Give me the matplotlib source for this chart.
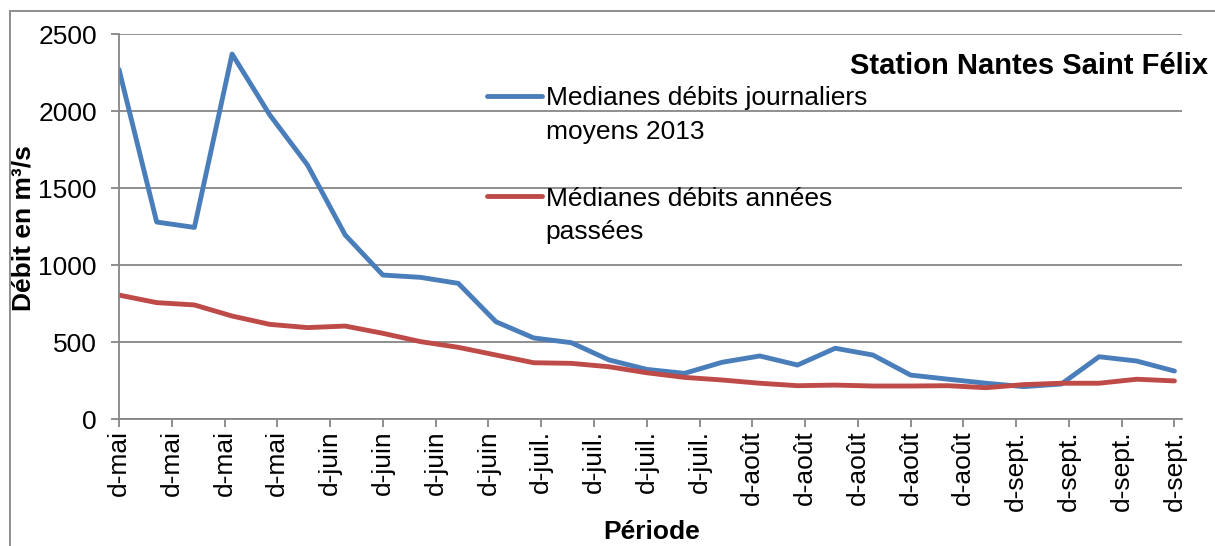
import numpy as np
import matplotlib
matplotlib.use("Agg")
import matplotlib.pyplot as plt
from matplotlib.lines import Line2D
from matplotlib.patches import Rectangle

plt.rcParams['font.family'] = ['Liberation Sans', 'DejaVu Sans']

# jours depuis le debut de la periode (un point tous les 5 jours)
jours = np.arange(0, 141, 5)
# medianes des debits journaliers moyens 2013 (m3/s)
debits_2013 = [2270, 1280, 1245, 2370, 1975, 1650, 1196, 936, 921, 882,
               633, 528, 497, 385, 324, 298, 370, 411, 352, 461,
               417, 287, 260, 234, 212, 229, 406, 378, 313]
# medianes des debits des annees passees (m3/s)
debits_passes = [806, 757, 742, 670, 616, 595, 605, 558, 504, 467,
                 417, 367, 363, 341, 302, 272, 255, 234, 218, 222,
                 216, 216, 218, 205, 225, 234, 234, 260, 249]

# graduations de l'axe des dates (une par semaine)
jours_ticks = np.arange(0, 141, 7)
labels_ticks = (['d-mai'] * 4 + ['d-juin'] * 4 + ['d-juil.'] * 4
                + ['d-août'] * 5 + ['d-sept.'] * 4)

nom_2013 = 'Medianes débits journaliers'
nom_2013_bis = 'moyens 2013'
nom_passes = 'Médianes débits années'
nom_passes_bis = 'passées'

bleu = '#4A7EBB'
rouge = '#BE4B48'
gris = '#868686'

W, H = 1215, 546
fig = plt.figure(figsize=(W / 100, H / 100), dpi=100)
ax = fig.add_axes([119 / W, (H - 419.3) / H, (1182 - 119) / W, (419.3 - 34) / H])

ax.plot(jours, debits_2013, color=bleu, lw=3.5, solid_capstyle='round', solid_joinstyle='round')
ax.plot(jours, debits_passes, color=rouge, lw=3.5, solid_capstyle='round', solid_joinstyle='round')

ax.set_xlim(0, 141)
ax.set_ylim(0, 2500)
ax.set_yticks(np.arange(0, 2501, 500))
ax.set_xticks(jours_ticks)
ax.set_xticklabels(labels_ticks, rotation=90)

ax.grid(axis='y', color=gris, lw=1.3)
ax.set_axisbelow(True)
for s in ['top', 'right']:
    ax.spines[s].set_visible(False)
for s in ['left', 'bottom']:
    ax.spines[s].set_color(gris)
    ax.spines[s].set_linewidth(1.3)

ax.tick_params(axis='y', direction='out', length=6, width=1.3, color=gris, pad=10, labelsize=19)
ax.tick_params(axis='x', direction='out', length=6, width=1.3, color=gris, pad=2, labelsize=19)

ax.set_ylabel('Débit en m³/s', fontsize=19, fontweight='bold', va='center')
ax.yaxis.set_label_coords((23.5 - 119) / 1063, (419.3 - 228) / 385.3)
ax.set_xlabel('Période', fontsize=19, fontweight='bold', va='center')
ax.xaxis.set_label_coords((652 - 119) / 1063, (419.3 - 532) / 385.3)

fig.text(1208 / W, 1 - 73.5 / H, 'Station Nantes Saint Félix', ha='right', va='baseline',
         fontsize=21, fontweight='bold')

# legende sur plusieurs lignes, cle alignee sur la premiere ligne
vide = Line2D([], [], color='none')
handles = [Line2D([], [], color=bleu, lw=3.5, solid_capstyle='round'), vide, vide,
           Line2D([], [], color=rouge, lw=3.5, solid_capstyle='round'), vide]
labels = [nom_2013, nom_2013_bis, ' ', nom_passes, nom_passes_bis]
fig.legend(handles, labels, loc='upper left', bbox_to_anchor=(487 / W, 1 - 86 / H),
           frameon=False, fontsize=19, handlelength=2.08, handletextpad=0.14,
           labelspacing=0.36, borderpad=0, borderaxespad=0)

# cadre du graphique (coupe a droite et en bas)
fig.add_artist(Rectangle((9.5 / W, -0.1), 1.0, 1 - 10.5 / H + 0.1, fill=False,
                         edgecolor=gris, lw=1.3, transform=fig.transFigure))

fig.savefig('out.png', dpi=100)
